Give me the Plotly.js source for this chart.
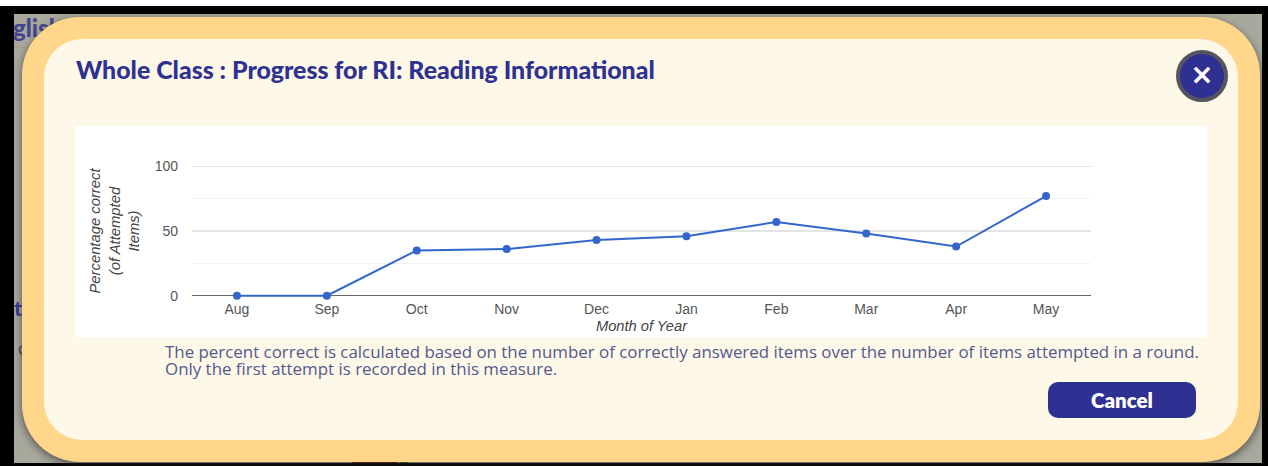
<!DOCTYPE html>
<html>
<head>
<meta charset="utf-8">
<script src="https://cdn.plot.ly/plotly-3.0.1.min.js"></script>
<style>
html,body{margin:0;padding:0;width:1268px;height:466px;overflow:hidden;background:#000;}
.abs{position:absolute;}
#top{left:0;top:0;width:1268px;height:6px;background:#fff;}
#bg{left:14px;top:14px;width:1248px;height:449px;background:#a9a89c;overflow:hidden;}
#rule{left:0;top:33px;width:40px;height:1px;background:#b09c82;}
#modal{left:22px;top:17px;width:1238px;height:445px;background:#ffd68a;border-radius:58px;box-shadow:0 3px 9px rgba(40,40,40,.65);}
#inner{left:44px;top:39px;width:1194px;height:401px;background:#fdf8e7;border-radius:38px;}
#panel{left:75px;top:126px;width:1132px;height:211px;background:#fff;}
#plot{left:0;top:0;width:1268px;height:466px;}
#close{left:1176px;top:50px;width:44px;height:44px;border:4px solid #55555f;border-radius:50%;background:#2e3192;color:#fff;font:900 28px/42px "DejaVu Sans",sans-serif;text-align:center;}
#cancel{left:1048px;top:382px;width:148px;height:36px;border-radius:10px;background:#2e3192;color:#fff;font:800 20.5px/37px Lato,sans-serif;text-align:center;}
#note{left:165px;top:343px;color:#55598f;font:16.9px/17px "Open Sans",sans-serif;white-space:nowrap;}
#frag{left:-1px;top:0px;color:#45458f;font:900 24px/28px Lato,sans-serif;white-space:nowrap;}
#t{left:0px;top:282px;color:#3a3a9a;font:900 21px/24px Lato,sans-serif;}
#c{left:4px;top:323px;color:#4a4a55;font:400 19px/22px Lato,sans-serif;}
#red{left:338px;top:447px;width:46px;height:2px;background:#7c1c1c;}
#green{left:386px;top:447px;width:8px;height:2px;background:#2c7a3c;}
</style>
</head>
<body>
<div class="abs" id="top"></div>
<div class="abs" id="bg">
  <div class="abs" id="rule"></div>
  <div class="abs" id="frag">glish I</div>
  <div class="abs" id="t">t</div>
  <div class="abs" id="c">c</div>
  <div class="abs" id="red"></div>
  <div class="abs" id="green"></div>
</div>
<div class="abs" id="modal"></div>
<div class="abs" id="inner"></div>
<div class="abs" id="panel"></div>
<div class="abs" id="plot"></div>
<div class="abs" id="note">The percent correct is calculated based on the number of correctly answered items over the number of items attempted in a round.<br>Only the first attempt is recorded in this measure.</div>
<div class="abs" id="close">×</div>
<div class="abs" id="cancel">Cancel</div>
<script>
var months = ["Aug","Sep","Oct","Nov","Dec","Jan","Feb","Mar","Apr","May"];
var percentCorrect = [0,0,35,36,43,46,57,48,38,77];
var yTicks = [0,50,100];

var trace = {
  x: months, y: percentCorrect, type:"scatter", mode:"lines+markers",
  line:{color:"#3366cc",width:2}, marker:{color:"#3366cc",size:8},
  cliponaxis:false, showlegend:false, hoverinfo:"skip"
};
var layout = {
  width:1268, height:466,
  margin:{l:192,r:177,t:164.7,b:168.7,pad:0},
  paper_bgcolor:"rgba(0,0,0,0)", plot_bgcolor:"rgba(0,0,0,0)",
  showlegend:false,
  title:{text:"Whole Class : Progress for RI: Reading Informational",
    font:{family:"Lato, sans-serif",size:24.9,weight:900,color:"#2e3192"},
    x:76/1268,xanchor:"left",xref:"container",y:1-70/466,yanchor:"middle",yref:"container"},
  font:{family:"'Liberation Sans', Arial, sans-serif",size:14,color:"#555555"},
  xaxis:{type:"category",categoryorder:"array",categoryarray:months,range:[-0.5,9.5],
    showgrid:false,zeroline:false,showline:false,ticks:"",ticklen:0,ticklabelstandoff:2,
    tickfont:{size:14,color:"#555555"},
    title:{text:"<i>Month of Year</i>",font:{size:14.7,color:"#444444"},standoff:4}},
  yaxis:{range:[-1,101],tickmode:"array",tickvals:yTicks,ticktext:yTicks.map(String),
    showgrid:true,gridcolor:"#e4e4e4",gridwidth:1.5,
    minor:{dtick:25,tick0:0,showgrid:true,gridcolor:"#f2f2f2",gridwidth:1,ticks:""},
    zeroline:true,zerolinecolor:"#666666",zerolinewidth:1.5,showline:false,ticks:"",
    tickfont:{size:14,color:"#555555"},ticklabelstandoff:13,
    title:{text:"<i>Percentage correct<br>(of Attempted<br>Items)</i>",font:{size:14.8,color:"#444444"},standoff:11}}
};
Plotly.newPlot("plot",[trace],layout,{displayModeBar:false,staticPlot:true});
</script>
</body>
</html>
